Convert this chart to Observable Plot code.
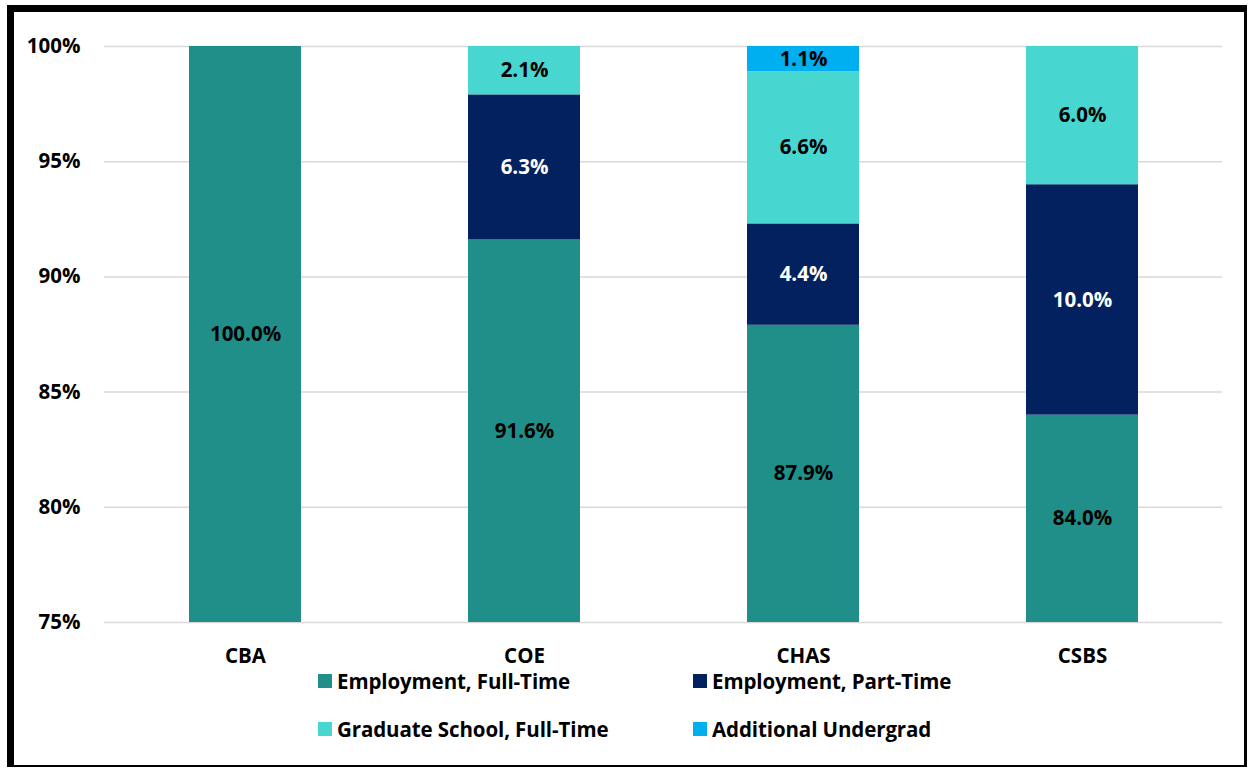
<!DOCTYPE html>
<html>
<head>
<meta charset="utf-8">
<script src="https://cdn.jsdelivr.net/npm/d3@7"></script>
<script src="https://cdn.jsdelivr.net/npm/@observablehq/plot@0.6"></script>
<style>
  html, body { margin: 0; padding: 0; background: #fff; }
  body { width: 1249px; height: 770px; position: relative; overflow: hidden; font-family: "Open Sans", Lato, sans-serif; }
  #chart { position: absolute; left: 0; top: 0; }
  #frame { position: absolute; left: 7px; top: 5px; width: 1230px; height: 753px;
           border-left: 7px solid #000; border-top: 7px solid #000; border-right: 3px solid #000; border-bottom: 2px solid #000; pointer-events: none; }
  .leg { position: absolute; display: flex; align-items: center; font-weight: bold; font-size: 20.5px; color: #000; white-space: nowrap; letter-spacing: -0.1px; }
  .sw { width: 14px; height: 14px; margin-right: 5px; display: inline-block; }
</style>
</head>
<body>
<div id="chart"></div>
<div id="legend"></div>
<div id="frame"></div>
<script>
const colleges = ["CBA", "COE", "CHAS", "CSBS"];
const seriesNames = ["Employment, Full-Time", "Employment, Part-Time", "Graduate School, Full-Time", "Additional Undergrad"];
const fullTime = [100.0, 91.6, 87.9, 84.0];
const partTime = [0, 6.3, 4.4, 10.0];
const gradSchool = [0, 2.1, 6.6, 6.0];
const addlUndergrad = [0, 0, 1.1, 0];
const colors = ["#218F89", "#03215F", "#47D7D0", "#00AFEF"];
const labelColors = ["#000", "#fff", "#000", "#000"];
const yTicks = [75, 80, 85, 90, 95, 100];

const seriesValues = [fullTime, partTime, gradSchool, addlUndergrad];
const rows = [];
colleges.forEach((c, i) => {
  let base = 0;
  seriesValues.forEach((vals, s) => {
    const v = vals[i];
    if (v > 0) {
      rows.push({college: c, series: seriesNames[s], value: v, y1: base, y2: base + v,
                 ymid: (Math.max(base, 75) + base + v) / 2, label: v.toFixed(1) + "%", lc: labelColors[s]});
    }
    base += v;
  });
});

const plot = Plot.plot({
  width: 1249,
  height: 680,
  marginLeft: 104,
  marginRight: 27,
  marginTop: 46,
  marginBottom: 58,
  style: {fontFamily: "'Open Sans', Lato, sans-serif", fontWeight: "bold", fontSize: "20.5px", color: "#000", background: "transparent"},
  x: {domain: colleges, paddingInner: 0.6, paddingOuter: 0.3, label: null},
  y: {domain: [75, 100], label: null},
  color: {domain: seriesNames, range: colors},
  marks: [
    Plot.ruleY(yTicks, {stroke: "#d9d9d9", strokeWidth: 1.5}),
    Plot.barY(rows, {x: "college", y1: "y1", y2: "y2", fill: "series", clip: true}),
    Plot.text(rows, {x: "college", y: "ymid", text: "label", fill: "lc", fontSize: 20.5, fontWeight: "bold"}),
    Plot.axisY({ticks: yTicks, tickFormat: d => d + "%", tickSize: 0, tickPadding: 24, fontSize: 20.5}),
    Plot.axisX({tickSize: 0, tickPadding: 26, fontSize: 20.5})
  ]
});
document.getElementById("chart").appendChild(plot);

const legend = document.getElementById("legend");
const legPos = [[318, 681], [693, 681], [318, 729], [693, 729]];
seriesNames.forEach((n, i) => {
  const d = document.createElement("div");
  d.className = "leg";
  d.style.left = legPos[i][0] + "px";
  d.style.top = (legPos[i][1] - 14) + "px";
  d.style.height = "28px";
  d.innerHTML = `<span class="sw" style="background:${colors[i]}"></span><span>${n}</span>`;
  legend.appendChild(d);
});
</script>
</body>
</html>
